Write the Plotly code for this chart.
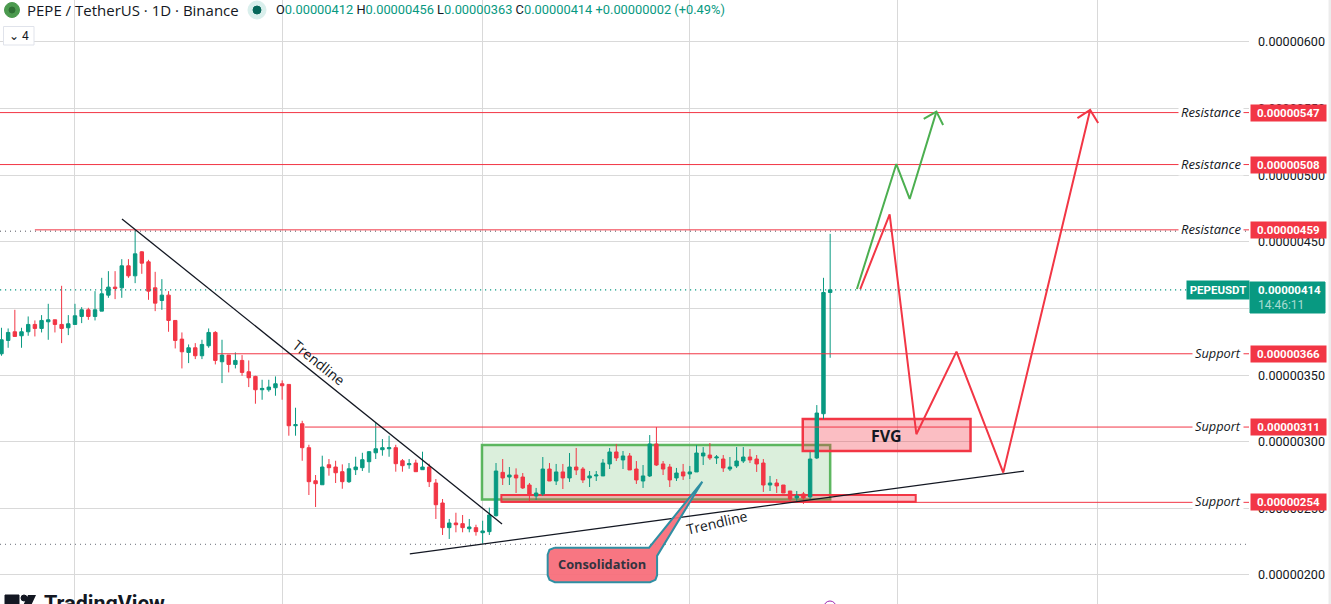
import pandas as pd
import plotly.graph_objects as go

# prices are in units of 0.00000001, days are counted from 2025-05-01
first_candle = "2025-04-20"
grid_start = pd.Timestamp("2025-05-01")

opens = [366, 376, 382.5, 379.5, 382.5, 388, 385, 390, 391.5, 388, 385.5,
         388, 394, 399, 394, 398, 410, 416, 415.5, 432, 424.5, 442.5, 435, 415.5, 406,
         410, 391, 377, 367, 370.5, 364.5, 372, 382, 360, 365, 358, 361, 352.5, 349,
         339, 339, 340.5, 343.5, 343, 312, 313.5, 295.5, 270.7, 267.7, 282.7, 281, 277.5,
         270, 279, 280.5, 285, 291.7, 294, 294.7, 295.5, 285.7, 282.7, 284, 279, 281,
         269, 254, 235.5, 239, 238.5, 234.7, 235.5, 231.7, 232.5, 244.5, 277, 273.5,
         275, 273.5, 267.5, 259.3, 260.8, 279.5, 270.5, 277.3, 272.8, 281, 279.5, 272.8,
         274.3, 274.3, 283.3, 292.3, 286.3, 289.3, 279.5, 270.5, 274.3, 298.3, 283.3, 281,
         272.8, 277.3, 275.8, 277.3, 289.3, 290, 287.8, 287, 279.5, 281.8, 285.5, 288.5,
         287, 284, 267.5, 269, 267.5, 263, 257.8, 260.8, 258.5, 287.8, 321, 412]
highs = [385.5, 385, 399, 385.5, 394, 391, 395, 403.5, 391.5, 417, 395,
         403.5, 401, 400.5, 413, 423, 428, 428, 437, 437, 459, 443, 436.5, 427.5, 422,
         413, 391, 382, 373, 374, 376.5, 385, 383, 376.5, 365, 367, 365, 361, 349.5,
         346.5, 346.5, 349, 346, 343, 325.5, 315.7, 297.7, 275, 289.5, 287, 285.7, 283,
         284, 288.7, 291.7, 293, 314, 302, 304.5, 297.7, 287, 287, 286.5, 292.5, 283.5,
         272, 257, 242, 246.7, 245, 242, 237.7, 240.7, 250.5, 284, 287, 281,
         280, 276.5, 269, 265.3, 288.5, 284, 283.3, 283.3, 291.5, 295.3, 281, 278,
         278, 287, 295.3, 298.3, 293, 291.5, 285.5, 282.5, 305, 311, 285.5, 283.3,
         280.3, 283.3, 281.8, 297.5, 296, 299, 290, 290, 288.5, 296, 296, 294.5,
         290, 287, 274.3, 272, 267.5, 263, 263, 262.3, 292.3, 327.5, 423, 456]
lows = [364.5, 370.5, 379, 370.5, 379.5, 379, 382, 376.5, 382, 374, 380,
        388, 389, 391.5, 391, 398, 408, 407, 408, 423, 419, 426, 406.5, 398, 399,
        382.5, 370, 355, 359, 362, 362, 370.5, 358, 344, 352, 355, 349.5, 341, 328.5,
        331.5, 337.5, 334.5, 331.5, 304.5, 304.5, 285.7, 260, 251, 267.7, 274.5, 269, 264.7,
        269, 275, 278, 276.7, 287, 289.5, 288.7, 277.5, 277.5, 279.7, 277.5, 279, 266,
        242, 230, 227, 232, 232, 232, 229.5, 223.5, 230, 243.8, 267.5, 267.5,
        261.5, 264.5, 255.5, 256.3, 259.3, 270.5, 267.5, 264.5, 269.8, 275, 269, 266,
        270.5, 274.3, 279.5, 285.5, 279.5, 278.8, 268.3, 265.3, 273.5, 281.8, 275, 266,
        270.5, 271.3, 272, 277.3, 282.5, 286.3, 283.3, 277.3, 278, 280.3, 284, 284,
        277.3, 262.3, 263, 261.5, 261.5, 255.5, 255.5, 253.3, 256.3, 287, 317, 363]
closes = [376.5, 382, 379, 382.5, 388, 385, 391, 391.5, 388, 385, 388.5,
          394.5, 399, 394, 399, 411, 416, 415, 432, 424.5, 441, 434, 413, 404, 410,
          391, 376, 367.5, 370.5, 364.5, 373, 382, 361, 365, 358, 361, 352, 348, 339,
          340, 341, 343.5, 342, 312, 312.8, 295.5, 270, 268.5, 281, 280.5, 276.7, 270,
          279.7, 281, 286.5, 292.5, 294.7, 295.5, 295.5, 283.5, 282, 283.5, 277.5, 281, 270,
          252.7, 235.5, 239, 237.7, 235.5, 236, 232.5, 233, 245, 278, 272.8, 275,
          272.8, 265.3, 260.8, 261.5, 279.5, 270.5, 277.3, 272.8, 281, 278.8, 271.3, 274.3,
          275, 284, 292.3, 287.8, 289.3, 278.8, 271.3, 274.3, 298.3, 282.5, 279.5, 271.3,
          276.5, 274.3, 277.3, 291.5, 291.5, 287.8, 288.5, 280.3, 281, 285.5, 288.5, 286.3,
          283.3, 267.5, 269, 266.8, 261.5, 257, 259.3, 257.8, 287, 321.5, 412, 414]

tick_vals = [200, 250, 300, 350, 400, 450, 500, 550, 600]
tick_labels = ["0.00000200", "0.00000250", "0.00000300", "0.00000350", "0.00000400",
               "0.00000450", "0.00000500", "0.00000550", "0.00000600"]

# horizontal levels: name, price, tag, first day
levels = [("Resistance", 547, "0.00000547", -12),
          ("Resistance", 508, "0.00000508", -12),
          ("Resistance", 459, "0.00000459", -6),
          ("Support", 366, "0.00000366", 21.2),
          ("Support", 311, "0.00000311", 34.4),
          ("Support", 254.5, "0.00000254", 63.8)]

high_price = 458
low_price = 223
last_price = 414

trend_down_days = [7.03, 63.9]
trend_down_prices = [467.2, 238.3]
trend_up_days = [50.1, 142]
trend_up_prices = [215.8, 278]

green_days = [117, 122.9, 124.9, 128.9]
green_prices = [414.6, 508.4, 482.2, 547.7]
green_head_days = [127, 128.9, 129.9]
green_head_prices = [542.2, 547.7, 537.7]

red_days = [117.5, 121.9, 125.9, 131.9, 138.9, 151.9]
red_prices = [414.6, 470.7, 305.6, 367.6, 276.8, 549]
red_head_days = [150, 151.9, 153.1]
red_head_prices = [542.8, 549, 539.2]

callout_days = [71.8, 85.9, 93.87, 87.1, 87.1, 86.85, 86.05, 71.8, 71.0, 70.73, 70.73, 71.0, 71.8]
callout_prices = [220.5, 220.5, 270, 214.3, 199.8, 196.3, 194.5, 194.5, 196.3, 199.8, 215.2, 218.9, 220.5]

RED = "#f23645"
TEAL = "#089981"
GREEN = "#4caf50"
GRID = "#d9d9d9"
W, H = 1331, 604


def to_date(day):
    return grid_start + pd.Timedelta(days=day)


def dates(days):
    return [to_date(d) for d in days]


def px(x):
    return x / W


def py(y):
    return 1 - y / H


def add_line(fig, days, prices, color, width=1.0, dash=None):
    fig.add_trace(go.Scatter(x=dates(days), y=prices, mode="lines", hoverinfo="skip",
                             line=dict(color=color, width=width, dash=dash)))


fig = go.Figure()

candle_dates = pd.date_range(first_candle, periods=len(opens), freq="D")
fig.add_trace(go.Candlestick(
    x=candle_dates, open=opens, high=highs, low=lows, close=closes,
    whiskerwidth=0,
    increasing=dict(line=dict(color=TEAL, width=1), fillcolor=TEAL),
    decreasing=dict(line=dict(color=RED, width=1), fillcolor=RED),
))

# price lines
left_day, right_day = -11.22, 175.67
for name, price, tag, start in levels:
    add_line(fig, [start, right_day], [price, price], RED, 1)

add_line(fig, [left_day, right_day], [high_price, high_price], "#50535e", 1, "1px,4px")
add_line(fig, [left_day, right_day], [low_price, low_price], "#6a6d78", 1, "1px,4px")
add_line(fig, [left_day, 166.3], [last_price, last_price], TEAL, 1.2, "1.2px,3.8px")

add_line(fig, trend_down_days, trend_down_prices, "#131722", 1.3)
add_line(fig, trend_up_days, trend_up_prices, "#131722", 1.3)
add_line(fig, green_days, green_prices, GREEN, 2)
add_line(fig, green_head_days, green_head_prices, GREEN, 2)
add_line(fig, red_days, red_prices, RED, 2)
add_line(fig, red_head_days, red_head_prices, RED, 2)

fig.add_trace(go.Scatter(x=dates(callout_days), y=callout_prices, mode="lines", fill="toself",
                         fillcolor="rgba(247,108,120,0.93)", hoverinfo="skip",
                         line=dict(color="#2f8fa3", width=2)))


def box(day0, day1, price0, price1, line_color, fill, width=2):
    return dict(type="rect", xref="x", yref="y", x0=to_date(day0), x1=to_date(day1),
                y0=price0, y1=price1, layer="between", fillcolor=fill,
                line=dict(color=line_color, width=width))


def chrome_rect(x0, y0, x1, y1, fill, line_color=None, layer="above"):
    return dict(type="rect", xref="paper", yref="paper", x0=px(x0), x1=px(x1), y0=py(y0), y1=py(y1),
                fillcolor=fill, layer=layer, line=dict(color=line_color or fill, width=1))


def chrome_circle(x, y, r, fill, line_color=None):
    return dict(type="circle", xref="paper", yref="paper", x0=px(x - r), x1=px(x + r),
                y0=py(y + r), y1=py(y - r), fillcolor=fill,
                line=dict(color=line_color or fill, width=1))


shapes = [
    box(60.9, 113, 297.6, 256.6, "rgba(76,175,80,0.9)", "rgba(76,175,80,0.2)", 2.5),
    box(63.8, 125.8, 260, 255, RED, "rgba(242,54,69,0.3)", 2),
    box(108.9, 134, 317, 293, RED, "rgba(242,54,69,0.32)", 2.5),
    # header items and right edge
    chrome_circle(12, 10, 7.5, "#4c9a4f"),
    chrome_circle(12, 10, 3, "#2f6f35"),
    chrome_circle(257, 10, 9, "#d9efec"),
    chrome_circle(257, 10, 4, "#06675a"),
    chrome_rect(3.5, 26.5, 34, 45, "#ffffff", "#e0e3eb"),
    chrome_rect(1329, 0, 1331, 604, "#ececec"),
    chrome_rect(1250, 282, 1325, 313, TEAL),
    # bottom logo, cut by the window
    chrome_rect(5, 595, 19, 610, "#131722"),
    chrome_circle(24, 598, 3, "#131722"),
    dict(type="path", xref="paper", yref="paper", fillcolor="#131722", line=dict(width=0),
         path=f"M {px(28)} {py(595)} L {px(36)} {py(595)} L {px(29)} {py(610)} L {px(21)} {py(610)} Z"),
    chrome_circle(830, 607, 6, "rgba(0,0,0,0)", "#9c27b0"),
]

annotations = []


def label(x, y, text, size=12, color="#131722", anchor="left", yref="paper", family="Roboto", **kw):
    annotations.append(dict(x=px(x), y=y, xref="paper", yref=yref, text=text, showarrow=False,
                            xanchor=anchor, yanchor=kw.pop("yanchor", "middle"),
                            font=dict(size=size, color=color, family=family), **kw))


def data_label(day, price, text, size=14, color="#131722", angle=0, family="Open Sans"):
    annotations.append(dict(x=to_date(day), y=price, xref="x", yref="y", text=text, showarrow=False,
                            textangle=angle, font=dict(size=size, color=color, family=family)))


for name, price, tag, start in levels:
    size = 13 if name == "Resistance" else 12.8
    label(1244, price, f"<i>{name}</i>", size=size, anchor="right", yref="y", family="Open Sans",
          bgcolor="#ffffff", borderpad=2, yshift=1)
    label(1250, price, f"<b>{tag}</b>", size=11.5, color="#ffffff", yref="y", bgcolor=RED,
          width=75, height=16, borderpad=0)

label(1186, py(290), "<b>PEPEUSDT</b>", size=11.5, color="#ffffff", bgcolor=TEAL,
      width=62, height=18, borderpad=0)
label(1256, py(290), "<b>0.00000414</b>", size=11.5, color="#ffffff")
label(1256, py(305), "14:46:11", size=12, color="#a8dcd2")

val = "<span style='color:#089981'>{}</span>"
header = ("O" + val.format("0.00000412") + " H" + val.format("0.00000456") + " L" + val.format("0.00000363")
          + " C" + val.format("0.00000414") + " " + val.format("+0.00000002 (+0.49%)"))
label(25, py(10), "PEPE / TetherUS · 1D · Binance", size=15, family="Open Sans")
label(274, py(10), header, size=12.85)
label(19, py(36), "⌄ 4", size=12, anchor="center")
label(42, py(589), "<b>TradingView</b>", size=21.5, yanchor="top")

data_label(121.4, 304.5, "<b>FVG</b>", size=16, family="Noto Sans")
data_label(78.9, 208.3, "<b>Consolidation</b>", size=12.8, color="#33333f", family="Open Sans")
data_label(36.5, 359.5, "Trendline", size=14, angle=39)
data_label(96, 239, "Trendline", size=14, angle=-13)

fig.update_layout(
    width=W, height=H, margin=dict(l=0, r=0, t=0, b=0),
    plot_bgcolor="#ffffff", paper_bgcolor="#ffffff", showlegend=False,
    boxgap=0.27, shapes=shapes, annotations=annotations,
    xaxis=dict(domain=[0, 1249 / W], range=[to_date(left_day), to_date(right_day)], type="date",
               rangeslider=dict(visible=False), showticklabels=False, ticks="",
               tick0=grid_start, dtick="M1", showgrid=True, gridcolor=GRID, gridwidth=1, zeroline=False,
               showline=False),
    yaxis=dict(side="right", range=[178.2, 631.5], tickmode="array", tickvals=tick_vals,
               ticktext=tick_labels, showgrid=True, gridcolor=GRID, gridwidth=1, zeroline=False,
               showline=False, ticks="", ticklabelstandoff=8,
               tickfont=dict(size=12.6, color="#131722", family="Roboto")),
)

fig.write_html("out.html", config=dict(displayModeBar=False),
               post_script="document.body.style.margin='0';document.documentElement.style.overflow='hidden';")
